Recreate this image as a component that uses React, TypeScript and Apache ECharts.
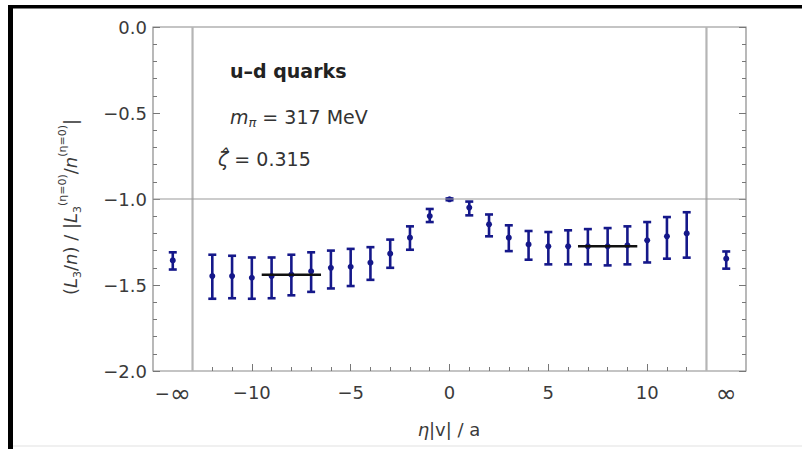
import React, { useEffect, useRef } from "react";
import * as echarts from "echarts";

// ---- data ----
const etaValues = [-14, -12, -11, -10, -9, -8, -7, -6, -5, -4, -3, -2, -1, 0, 1, 2, 3, 4, 5, 6, 7, 8, 9, 10, 11, 12, 14];
const ratioMid = [-1.357, -1.448, -1.448, -1.458, -1.448, -1.44, -1.42, -1.4, -1.394, -1.37, -1.318, -1.225, -1.099, -1.002, -1.05, -1.147, -1.225, -1.264, -1.275, -1.275, -1.275, -1.275, -1.27, -1.24, -1.217, -1.2, -1.347];
const ratioLow = [-1.41, -1.58, -1.577, -1.58, -1.577, -1.56, -1.54, -1.52, -1.506, -1.47, -1.4, -1.295, -1.134, -1.007, -1.095, -1.217, -1.303, -1.353, -1.38, -1.38, -1.38, -1.386, -1.38, -1.369, -1.347, -1.341, -1.405];
const ratioHigh = [-1.31, -1.324, -1.33, -1.34, -1.34, -1.324, -1.31, -1.3, -1.29, -1.28, -1.236, -1.159, -1.058, -0.997, -1.015, -1.09, -1.153, -1.186, -1.192, -1.182, -1.175, -1.169, -1.159, -1.134, -1.105, -1.077, -1.305];
const plateauLeft = [[-9.5, -1.44], [-6.5, -1.44]];
const plateauRight = [[6.5, -1.275], [9.5, -1.275]];
const separatorX = [-13, 13];
const referenceY = -1.0;
const xLabelValues = [-14, -10, -5, 0, 5, 10, 14];
const xMajorTicks = [-10, -5, 0, 5, 10];
const xMinorTicks = [-12, -11, -10, -9, -8, -7, -6, -5, -4, -3, -2, -1, 0, 1, 2, 3, 4, 5, 6, 7, 8, 9, 10, 11, 12];
const xLabelText: Record<string, string> = { "-14": "−{inf|∞}", "-10": "−10", "-5": "−5", "0": "0", "5": "5", "10": "10", "14": "{inf|∞}" };

const FONT = "'DejaVu Sans', 'Liberation Sans', Arial, sans-serif";
const BLUE = "#15188a";
const LABEL = "#3a3a3a";

export default function App() {
  const ref = useRef<HTMLDivElement>(null);
  useEffect(() => {
    if (!ref.current) return;
    const chart = echarts.init(ref.current, undefined, { renderer: "svg" });
    const errData = etaValues.map((x, i) => [x, ratioMid[i], ratioLow[i], ratioHigh[i]]);
    const supS = { fontSize: 11, lineHeight: 12, verticalAlign: "top", fontFamily: FONT, fill: LABEL };
    const subS = { fontSize: 11, lineHeight: 12, verticalAlign: "bottom", fontFamily: FONT, fill: LABEL };
    const option: any = {
      animation: false,
      backgroundColor: "#fff",
      grid: { left: 153, top: 27, right: 56, bottom: 78, show: true, borderColor: "#8a8a8a", borderWidth: 1.2, backgroundColor: "transparent" },
      xAxis: [
        {
          type: "value", min: -15, max: 15, interval: 1, position: "bottom",
          axisLine: { show: false, onZero: false }, splitLine: { show: false },
          axisTick: { show: true, inside: true, length: 7, customValues: xMajorTicks, lineStyle: { color: "#777", width: 1 } },
          axisLabel: {
            show: true, customValues: xLabelValues, margin: 12, color: LABEL, fontSize: 18, fontFamily: FONT,
            formatter: (v: number) => xLabelText[String(v)] ?? "",
            rich: { inf: { fontSize: 25, fontFamily: FONT, color: LABEL, lineHeight: 20 } },
          },
        },
        {
          type: "value", min: -15, max: 15, interval: 1, position: "bottom",
          axisLine: { show: false, onZero: false }, splitLine: { show: false }, axisLabel: { show: false },
          axisTick: { show: true, inside: true, length: 4, customValues: xMinorTicks, lineStyle: { color: "#777", width: 1 } },
        },
      ],
      yAxis: [
        {
          type: "value", min: -2, max: 0, interval: 0.5, position: "left",
          axisLine: { show: false, onZero: false }, splitLine: { show: false },
          axisTick: { show: true, inside: true, length: 7, lineStyle: { color: "#777" } },
          minorTick: { show: true, splitNumber: 5, length: 4, lineStyle: { color: "#777" } },
          axisLabel: { margin: 6, color: LABEL, fontSize: 18, fontFamily: FONT, formatter: (v: number) => v.toFixed(1).replace("-", "−") },
        },
        {
          type: "value", min: -2, max: 0, interval: 0.5, position: "right",
          axisLine: { show: false, onZero: false }, splitLine: { show: false }, axisLabel: { show: false },
          axisTick: { show: true, inside: true, length: 7, lineStyle: { color: "#777" } },
          minorTick: { show: true, splitNumber: 5, length: 4, lineStyle: { color: "#777" } },
        },
      ],
      series: [
        ...separatorX.map((sx) => ({
          type: "line", xAxisIndex: 0, yAxisIndex: 0, symbol: "none", silent: true,
          data: [[sx, -2], [sx, 0]], lineStyle: { color: "#b5b5b5", width: 2.2 },
        })),
        {
          type: "line", xAxisIndex: 0, yAxisIndex: 0, symbol: "none", silent: true,
          data: [[-15, referenceY], [15, referenceY]], lineStyle: { color: "#999", width: 1.2 },
        },
        {
          type: "custom", xAxisIndex: 0, yAxisIndex: 0, data: errData,
          encode: { x: 0, y: [1, 2, 3] },
          renderItem: (params: any, api: any) => {
            const x = api.value(0);
            const pc = api.coord([x, api.value(1)]);
            const pl = api.coord([x, api.value(2)]);
            const ph = api.coord([x, api.value(3)]);
            const cap = 4;
            const st = { stroke: BLUE, lineWidth: 2.6 };
            return {
              type: "group",
              children: [
                { type: "line", shape: { x1: pl[0], y1: pl[1], x2: ph[0], y2: ph[1] }, style: st },
                { type: "line", shape: { x1: pl[0] - cap, y1: pl[1], x2: pl[0] + cap, y2: pl[1] }, style: st },
                { type: "line", shape: { x1: ph[0] - cap, y1: ph[1], x2: ph[0] + cap, y2: ph[1] }, style: st },
                { type: "circle", shape: { cx: pc[0], cy: pc[1], r: 3 }, style: { fill: BLUE } },
              ],
            };
          },
        },
        {
          type: "line", xAxisIndex: 0, yAxisIndex: 0, symbol: "none", silent: true,
          data: plateauLeft, lineStyle: { color: "#111", width: 2.6 },
        },
        {
          type: "line", xAxisIndex: 0, yAxisIndex: 0, symbol: "none", silent: true,
          data: plateauRight, lineStyle: { color: "#111", width: 2.6 },
        },
      ],
      graphic: [
        { type: "rect", shape: { x: 8, y: 5, width: 794, height: 3.5 }, style: { fill: "#000" } },
        { type: "rect", shape: { x: 8, y: 5, width: 5, height: 444 }, style: { fill: "#000" } },
        { type: "rect", shape: { x: 13, y: 445, width: 789, height: 2 }, style: { fill: "#f0f0f0" } },
        {
          type: "text", x: 230, y: 71, style: { text: "u–d quarks", font: `bold 19px ${FONT}`, fill: "#222", verticalAlign: "middle" },
        },
        {
          type: "text", x: 230, y: 117,
          style: {
            text: "{i|m}{s|π} = 317 MeV", fontSize: 19, fontFamily: FONT, fill: "#333", verticalAlign: "middle",
            rich: {
              i: { fontSize: 19, fontStyle: "italic", fontFamily: FONT, lineHeight: 24, fill: "#333" },
              s: { fontSize: 13, fontStyle: "italic", fontFamily: FONT, lineHeight: 14, verticalAlign: "bottom", fill: "#333" },
            },
          },
        },
        {
          type: "text", x: 218, y: 159,
          style: {
            text: "{i|ζ̂} = 0.315", fontSize: 19, fontFamily: FONT, fill: "#333", verticalAlign: "middle",
            rich: { i: { fontSize: 19, fontStyle: "italic", fontFamily: FONT, fill: "#333" } },
          },
        },
        {
          type: "text", x: 449, y: 429,
          style: {
            text: "{i|η}|v| / a", fontSize: 18, fontFamily: FONT, fill: LABEL, align: "center", verticalAlign: "middle",
            rich: { i: { fontSize: 18, fontStyle: "italic", fontFamily: FONT, fill: LABEL } },
          },
        },
        {
          type: "text", x: 70, y: 207, rotation: Math.PI / 2,
          style: {
            text: "({i|L}{sub|3}/{i|n}) / |{i|L}{sub|3}{sup|(η=0)}/{i|n}{sup|(η=0)}|",
            fontSize: 18, fontFamily: FONT, fill: LABEL, align: "center", verticalAlign: "middle",
            rich: {
              i: { fontSize: 18, fontStyle: "italic", fontFamily: FONT, lineHeight: 26, fill: LABEL },
              sub: subS,
              sup: supS,
            },
          },
        },
      ],
    };
    chart.setOption(option);
    return () => chart.dispose();
  }, []);
  return <div ref={ref} style={{ position: "fixed", left: 0, top: 0, width: 802, height: 449, background: "#fff" }} />;
}
